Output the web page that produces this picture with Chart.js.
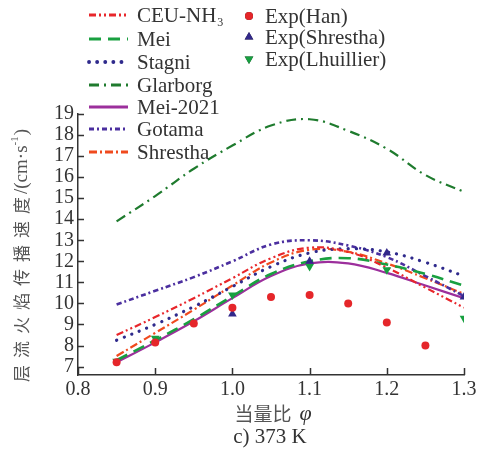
<!DOCTYPE html>
<html>
<head>
<meta charset="utf-8">
<script src="https://cdn.jsdelivr.net/npm/chart.js@4/dist/chart.umd.min.js"></script>
<style>
  html, body { margin: 0; padding: 0; background: #fff; }
  #wrap { position: relative; width: 483px; height: 459px; }
</style>
</head>
<body>
<div id="wrap"><canvas id="chart" width="483" height="459"></canvas></div>
<script>
// equivalence ratio grid for the model curves
const phi = [0.85, 0.9, 0.95, 1.0, 1.05, 1.1, 1.15, 1.2, 1.25, 1.3];

// model predictions, cm/s
const ceuNH3   = [8.5, 9.35, 10.25, 11.2, 12.15, 12.65, 12.45, 11.7, 10.75, 9.8];
const mei      = [7.3, 8.25, 9.25, 10.35, 11.4, 12.0, 12.15, 11.85, 11.4, 10.85];
const stagni   = [8.25, 9.0, 9.85, 10.8, 11.75, 12.4, 12.6, 12.45, 11.95, 11.3];
const glarborg = [13.9, 15.1, 16.4, 17.5, 18.45, 18.75, 18.2, 17.35, 16.1, 15.3];
const mei2021  = [7.2, 8.15, 9.15, 10.25, 11.3, 11.9, 11.9, 11.45, 10.85, 10.25];
const gotama   = [9.95, 10.6, 11.25, 12.0, 12.8, 13.0, 12.75, 12.2, 11.3, 10.35];
const shrestha = [7.5, 8.6, 9.7, 10.85, 11.95, 12.55, 12.45, 11.9, 11.2, 10.45];

// measurements
const hanPhi = [0.85, 0.9, 0.95, 1.0, 1.05, 1.1, 1.15, 1.2, 1.25];
const hanSL  = [7.2, 8.15, 9.05, 9.8, 10.3, 10.4, 10.0, 9.1, 8.0];
const shrPhi = [1.0, 1.1, 1.2, 1.3];
const shrSL  = [9.5, 12.0, 12.4, 10.3];
const lhuPhi = [0.85, 0.9, 1.0, 1.1, 1.2, 1.3];
const lhuSL  = [7.25, 8.35, 10.4, 11.75, 11.6, 9.3];

const xTicks = [0.8, 0.9, 1.0, 1.1, 1.2, 1.3];
const yTicks = [7, 8, 9, 10, 11, 12, 13, 14, 15, 16, 17, 18, 19];

const pts = (xs, ys) => xs.map((x, i) => ({ x: x, y: ys[i] }));

function model(label, ys, color, dash, width, cap) {
  return {
    type: 'line', label: label, data: pts(phi, ys),
    borderColor: color, backgroundColor: color, borderWidth: width || 2.2,
    borderDash: dash, borderCapStyle: cap || 'butt',
    pointRadius: 0, tension: 0.4, fill: false, order: 2
  };
}
function exp(label, xs, ys, color, style, size, rot) {
  return {
    type: 'scatter', label: label, data: pts(xs, ys),
    borderColor: color, backgroundColor: color, pointStyle: style,
    pointRadius: size, pointRotation: rot || 0, borderWidth: 0, order: 0
  };
}

const datasets = [
  model('CEU-NH3', ceuNH3, '#e8262b', [7, 3, 2, 3, 2, 3]),
  model('Mei', mei, '#19a040', [12, 7], 2.6),
  model('Stagni', stagni, '#2f2a8c', [0.1, 8], 3.2, 'round'),
  model('Glarborg', glarborg, '#1f7b2e', [10, 5, 2, 5]),
  model('Mei-2021', mei2021, '#9c2f9c', [], 2.2),
  model('Gotama', gotama, '#4b2f9f', [5, 3, 2, 3], 2.6),
  model('Shrestha', shrestha, '#f04a1e', [8, 3, 2, 3]),
  exp('Exp(Han)', hanPhi, hanSL, '#e5262a', 'circle', 4),
  exp('Exp(Shrestha)', shrPhi, shrSL, '#32288a', 'triangle', 5),
  exp('Exp(Lhuillier)', lhuPhi, lhuSL, '#17a040', 'triangle', 5, 180)
];

const serif = '"Liberation Serif", "DejaVu Serif", serif';
const ink = '#333';

// inward tick marks, axis titles, caption and the two-column legend
const decor = {
  id: 'decor',
  afterDraw(chart) {
    const ctx = chart.ctx;
    const xs = chart.scales.x, ys = chart.scales.y;
    const a = chart.chartArea;
    ctx.save();
    ctx.strokeStyle = ink;
    ctx.lineWidth = 1.5;
    ctx.beginPath();
    yTicks.forEach(v => {
      const p = Math.round(ys.getPixelForValue(v)) + 0.5;
      ctx.moveTo(a.left, p); ctx.lineTo(a.left + 6, p);
    });
    xTicks.forEach(v => {
      const p = Math.round(xs.getPixelForValue(v)) + 0.5;
      ctx.moveTo(p, a.bottom); ctx.lineTo(p, a.bottom - 7);
    });
    ctx.stroke();

    // y axis title, drawn character by character
    ctx.fillStyle = '#555';
    ctx.translate(22, 382);
    ctx.rotate(-Math.PI / 2);
    ctx.textBaseline = 'middle';
    ctx.textAlign = 'left';
    ctx.font = '17px "Noto Sans CJK SC"';
    let pos = 0;
    '层流火焰传播速度'.split('').forEach(ch => { ctx.fillText(ch, pos, 0); pos += 24; });
    ctx.font = '19px ' + serif;
    ctx.fillText('/(cm·s', pos - 4, 0);
    pos += ctx.measureText('/(cm·s').width - 4;
    ctx.font = '11px ' + serif;
    ctx.fillText('-1', pos, -7);
    pos += ctx.measureText('-1').width;
    ctx.font = '19px ' + serif;
    ctx.fillText(')', pos + 1, 0);
    ctx.setTransform(1, 0, 0, 1, 0, 0);

    // x axis title and caption
    ctx.textAlign = 'left';
    ctx.textBaseline = 'middle';
    ctx.font = '19px "Noto Sans CJK SC"';
    const t1 = '当量比';
    const w1 = ctx.measureText(t1).width + 8;
    ctx.font = 'italic 22px ' + serif;
    const w2 = ctx.measureText('φ').width;
    let sx = 273 - (w1 + w2) / 2;
    ctx.font = '19px "Noto Sans CJK SC"';
    ctx.fillStyle = '#555';
    ctx.fillText(t1, sx, 414);
    ctx.font = 'italic 22px ' + serif;
    ctx.fillStyle = ink;
    ctx.fillText('φ', sx + w1, 414);
    ctx.textAlign = 'center';
    ctx.font = '21px ' + serif;
    ctx.fillText('c) 373 K', 270, 437);

    // legend
    ctx.textAlign = 'left';
    const rowsL = [15, 39, 62, 85, 107, 129, 152];
    chart.data.datasets.slice(0, 7).forEach((d, i) => {
      const y = rowsL[i];
      ctx.strokeStyle = d.borderColor;
      ctx.lineWidth = d.borderWidth + 0.6;
      ctx.lineCap = d.borderCapStyle;
      ctx.setLineDash(d.borderDash);
      ctx.beginPath(); ctx.moveTo(89, y); ctx.lineTo(128, y); ctx.stroke();
      ctx.setLineDash([]);
      ctx.fillStyle = ink;
      ctx.font = '21px ' + serif;
      if (d.label === 'CEU-NH3') {
        ctx.fillText('CEU-NH', 137, y + 1);
        const w = ctx.measureText('CEU-NH').width;
        ctx.font = '12px ' + serif;
        ctx.fillText('3', 138 + w, y + 8);
      } else {
        ctx.fillText(d.label, 137, y + 1);
      }
    });
    const rowsR = [16, 37, 59];
    chart.data.datasets.slice(7).forEach((d, i) => {
      const y = rowsR[i];
      Chart.helpers.drawPoint(ctx, {
        pointStyle: d.pointStyle, radius: d.pointRadius, rotation: d.pointRotation, borderWidth: 0
      }, 249, y);
      ctx.fillStyle = d.backgroundColor;
      ctx.fill();
      ctx.fillStyle = ink;
      ctx.font = '21px ' + serif;
      ctx.fillText(d.label, 265, y + 1);
    });
    ctx.restore();
  }
};

new Chart(document.getElementById('chart'), {
  data: { datasets: datasets },
  options: {
    responsive: false,
    animation: false,
    events: [],
    layout: { padding: { top: 114, right: 19, left: 0, bottom: 0 } },
    plugins: { legend: { display: false }, tooltip: { enabled: false } },
    scales: {
      x: {
        type: 'linear', min: 0.8, max: 1.3,
        afterBuildTicks: s => { s.ticks = xTicks.map(v => ({ value: v })); },
        afterFit: s => { s.height = 84; },
        grid: { display: false, drawTicks: false },
        border: { display: true, color: ink, width: 1.5 },
        ticks: { color: ink, padding: 3, autoSkip: false, maxRotation: 0,
                 font: { family: serif, size: 20 }, callback: v => v.toFixed(1) }
      },
      y: {
        type: 'linear', min: 6.6, max: 19,
        afterBuildTicks: s => { s.ticks = yTicks.map(v => ({ value: v })); },
        afterFit: s => { s.width = 78; },
        grid: { display: false, drawTicks: false },
        border: { display: true, color: ink, width: 1.5 },
        ticks: { color: ink, padding: 4, autoSkip: false, font: { family: serif, size: 20 } }
      }
    }
  },
  plugins: [decor]
});
</script>
</body>
</html>
